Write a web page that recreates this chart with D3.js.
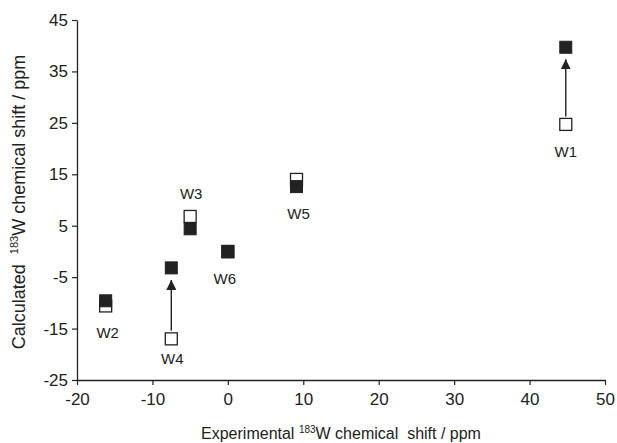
<!DOCTYPE html>
<html>
<head>
<meta charset="utf-8">
<script src="https://cdn.jsdelivr.net/npm/d3@7"></script>
<style>
  body { margin: 0; background: #fff; }
  text { font-family: "Liberation Sans", Arial, sans-serif; fill: #222; white-space: pre; }
</style>
</head>
<body>
<script>
// data
var sites = ["W1", "W2", "W3", "W4", "W5", "W6"];
var experimental = [44.8, -16.2, -5.0, -7.5, 9.1, 0.0];
var calcBefore = [24.7, -10.6, 6.8, -17.0, 14.0, 0.0];   // open squares
var calcAfter = [39.7, -9.6, 4.4, -3.2, 12.6, -0.1];     // filled squares
var arrowSites = ["W1", "W4"];
var xTicks = [-20, -10, 0, 10, 20, 30, 40, 50];
var yTicks = [-25, -15, -5, 5, 15, 25, 35, 45];

var svg = d3.select("body").append("svg")
    .attr("width", 617)
    .attr("height", 443);

var margin = {top: 20, right: 12, bottom: 63, left: 77},
    width = 617 - margin.left - margin.right,
    height = 443 - margin.top - margin.bottom,
    g = svg.append("g").attr("transform", "translate(" + margin.left + "," + margin.top + ")");

var x = d3.scaleLinear().domain([-20, 50]).range([0, width]);
var y = d3.scaleLinear().domain([-25, 45]).range([height, 0]);

var data = sites.map(function(s, i) {
  return {name: s, ex: experimental[i], before: calcBefore[i], after: calcAfter[i]};
});

// plain hyphen for negatives, like the original
var fmt = function(d) { return String(d); };

// axes
var xAxis = g.append("g")
    .attr("transform", "translate(0," + height + ")")
    .call(d3.axisBottom(x).tickValues(xTicks).tickSize(5).tickSizeOuter(0).tickFormat(fmt));
var yAxis = g.append("g")
    .call(d3.axisLeft(y).tickValues(yTicks).tickSize(5).tickSizeOuter(0).tickFormat(fmt));

[xAxis, yAxis].forEach(function(ax) {
  ax.select(".domain").attr("stroke", "#222").attr("stroke-width", 1.3);
  ax.selectAll(".tick line").attr("stroke", "#222").attr("stroke-width", 1.2);
  ax.selectAll("text").style("font-size", "17px").style("font-family", "Liberation Sans, Arial, sans-serif").attr("fill", "#222");
});
xAxis.selectAll("text").attr("dy", "1.0em");
yAxis.selectAll("text").attr("x", -9);

// markers
var sq = 12;
g.selectAll(".open")
  .data(data)
  .enter().append("rect")
    .attr("class", "open")
    .attr("x", function(d) { return x(d.ex) - sq / 2; })
    .attr("y", function(d) { return y(d.before) - sq / 2; })
    .attr("width", sq)
    .attr("height", sq)
    .attr("fill", "#fff")
    .attr("stroke", "#222")
    .attr("stroke-width", 1.3);

g.selectAll(".filled")
  .data(data)
  .enter().append("rect")
    .attr("class", "filled")
    .attr("x", function(d) { return x(d.ex) - sq / 2; })
    .attr("y", function(d) { return y(d.after) - sq / 2; })
    .attr("width", sq)
    .attr("height", sq)
    .attr("fill", "#222")
    .attr("stroke", "#222")
    .attr("stroke-width", 1);

// arrows from open to filled
svg.append("defs").append("marker")
    .attr("id", "head")
    .attr("viewBox", "0 0 10 10")
    .attr("refX", 10).attr("refY", 5)
    .attr("markerWidth", 10).attr("markerHeight", 10)
    .attr("markerUnits", "userSpaceOnUse")
    .attr("orient", "auto")
  .append("path")
    .attr("d", "M0,0L10,5L0,10Z")
    .attr("fill", "#222");

g.selectAll(".arrow")
  .data(data.filter(function(d) { return arrowSites.indexOf(d.name) >= 0; }))
  .enter().append("line")
    .attr("class", "arrow")
    .attr("x1", function(d) { return x(d.ex); })
    .attr("x2", function(d) { return x(d.ex); })
    .attr("y1", function(d) { return y(d.before) - sq / 2 - 2; })
    .attr("y2", function(d) { return y(d.after) + sq / 2 + 6; })
    .attr("stroke", "#222")
    .attr("stroke-width", 1.4)
    .attr("marker-end", "url(#head)");

// point labels: placed below (or above for W3) the markers
var labelShift = {W1: [0, 33], W2: [2, 32], W3: [1, -30], W4: [1, 25], W5: [2, 32], W6: [-3, 32]};
g.selectAll(".lab")
  .data(data)
  .enter().append("text")
    .attr("class", "lab")
    .attr("x", function(d) { return x(d.ex) + labelShift[d.name][0]; })
    .attr("y", function(d) { return y(Math.min(d.before, d.after)) + labelShift[d.name][1]; })
    .attr("text-anchor", "middle")
    .style("font-size", "15px")
    .text(function(d) { return d.name; });

// axis titles
var xt = svg.append("text")
    .attr("x", 341)
    .attr("y", 439)
    .attr("text-anchor", "middle")
    .style("font-size", "16px");
xt.append("tspan").text("Experimental ");
xt.append("tspan").attr("dy", -6).style("font-size", "10px").text("183");
xt.append("tspan").attr("dy", 6).text("W chemical  shift / ppm");

var yt = svg.append("text")
    .attr("transform", "translate(25," + (margin.top + height / 2 + 2) + ") rotate(-90)")
    .attr("text-anchor", "middle")
    .style("font-size", "18px");
yt.append("tspan").text("Calculated  ");
yt.append("tspan").attr("dy", -7).style("font-size", "11px").text("183");
yt.append("tspan").attr("dy", 7).text("W chemical shift / ppm");
</script>
</body>
</html>
